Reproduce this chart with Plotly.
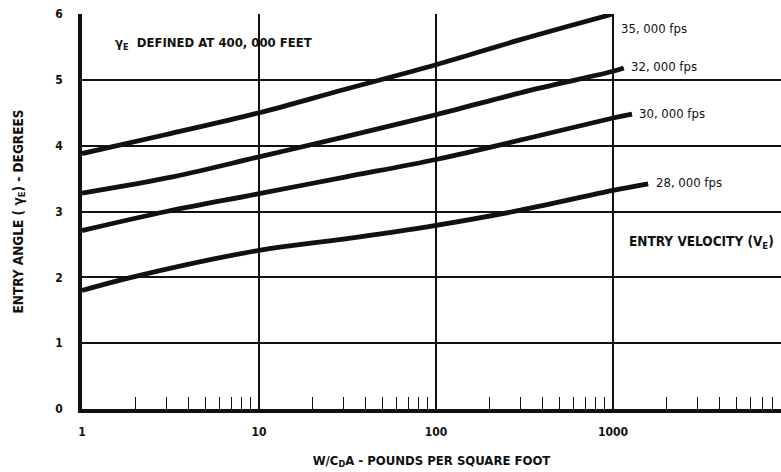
import numpy as np
import plotly.graph_objects as go

# Entry angle vs. ballistic parameter W/CdA, one curve per entry velocity
w_cda_35k = [1, 3, 10, 30, 100, 300, 1000]
angle_35k = [3.88, 4.17, 4.50, 4.85, 5.23, 5.61, 6.00]

w_cda_32k = [1, 3.3, 10, 30, 100, 340, 1000, 1150]
angle_32k = [3.28, 3.53, 3.83, 4.13, 4.47, 4.84, 5.13, 5.18]

w_cda_30k = [1, 3, 10, 30, 100, 340, 1000, 1280]
angle_30k = [2.71, 3.00, 3.27, 3.52, 3.79, 4.12, 4.42, 4.48]

w_cda_28k = [1, 1.9, 10, 30, 100, 300, 1000, 1580]
angle_28k = [1.80, 2.00, 2.41, 2.58, 2.79, 3.02, 3.32, 3.42]

curve_labels = ["35, 000 fps", "32, 000 fps", "30, 000 fps", "28, 000 fps"]

x_tick_vals = [1, 10, 100, 1000]
x_tick_text = ["1", "10", "100", "1000"]
y_tick_vals = [0, 1, 2, 3, 4, 5, 6]
y_grid_vals = [1, 2, 3, 4, 5]
minor_tick_vals = [m * 10 ** k for k in range(4) for m in range(2, 10)]

INK = "#111111"
FONT = "Liberation Sans Narrow, DejaVu Sans Condensed, Arial Narrow, sans-serif"

fig = go.Figure()

series = [
    (w_cda_35k, angle_35k),
    (w_cda_32k, angle_32k),
    (w_cda_30k, angle_30k),
    (w_cda_28k, angle_28k),
]
for xs, ys in series:
    fig.add_trace(go.Scatter(
        x=xs, y=ys, mode="lines",
        line=dict(color=INK, width=4.8, shape="spline", smoothing=1.0),
        cliponaxis=False, hoverinfo="skip", showlegend=False,
    ))

# helper trace that carries the overlay axes (grid + minor ticks)
fig.add_trace(go.Scatter(
    x=[1], y=[0], xaxis="x2", yaxis="y2", mode="markers",
    marker=dict(opacity=0), hoverinfo="skip", showlegend=False,
))

# curve end labels
label_shifts = [(6, -14), (5, 1), (5, 1), (6, 1)]
for (xs, ys), text, (dx, dy) in zip(series, curve_labels, label_shifts):
    fig.add_annotation(
        x=np.log10(xs[-1]), y=ys[-1], text=text, showarrow=False,
        xanchor="left", yanchor="middle", xshift=dx, yshift=dy,
        font=dict(family=FONT, size=13, color=INK),
    )

fig.add_annotation(
    xref="paper", yref="paper", x=0.045, y=0.925,
    text="<b>γ<sub>E</sub>  DEFINED AT 400, 000 FEET</b>",
    showarrow=False, xanchor="left", yanchor="middle",
    font=dict(family=FONT, size=13, color=INK),
)
fig.add_annotation(
    xref="paper", yref="paper", x=0.78, y=0.423,
    text="<b>ENTRY VELOCITY (V<sub>E</sub>)</b>",
    showarrow=False, xanchor="left", yanchor="middle",
    font=dict(family=FONT, size=13.5, color=INK),
)

x_range = [0, 3.949]

fig.update_layout(
    width=781, height=472,
    margin=dict(l=82, r=0, t=14, b=63),
    paper_bgcolor="white", plot_bgcolor="white",
    font=dict(family=FONT, size=12, color=INK),
    xaxis=dict(
        type="log", range=x_range,
        tickvals=x_tick_vals, ticktext=[f"<b>{t}</b>" for t in x_tick_text],
        ticks="", showgrid=True, gridcolor=INK, gridwidth=1.6,
        showline=True, linecolor=INK, linewidth=4, zeroline=False,
        ticklabelstandoff=9,
        title=dict(text="<b>W/C<sub>D</sub>A - POUNDS PER SQUARE FOOT</b>",
                   font=dict(family=FONT, size=13, color=INK), standoff=18),
    ),
    yaxis=dict(
        range=[0, 6], tickvals=y_tick_vals,
        ticktext=[f"<b>{v}</b>" for v in y_tick_vals],
        ticks="", showgrid=False, zeroline=False,
        showline=True, linecolor=INK, linewidth=3.5,
        ticklabelstandoff=13,
        title=dict(text="<b>ENTRY ANGLE ( γ<sub>E</sub>) - DEGREES</b>",
                   font=dict(family=FONT, size=13.5, color=INK), standoff=30),
    ),
    xaxis2=dict(
        type="log", range=x_range, overlaying="x", anchor="y",
        tickvals=minor_tick_vals, ticks="inside", ticklen=12, tickwidth=1.4,
        tickcolor=INK, showticklabels=False, showgrid=False,
        showline=False, zeroline=False,
    ),
    yaxis2=dict(
        range=[0, 6], overlaying="y", anchor="x",
        tickvals=y_grid_vals, showticklabels=False, ticks="",
        showgrid=True, gridcolor=INK, gridwidth=1.6,
        showline=False, zeroline=False,
    ),
)

fig.write_html("out.html")
